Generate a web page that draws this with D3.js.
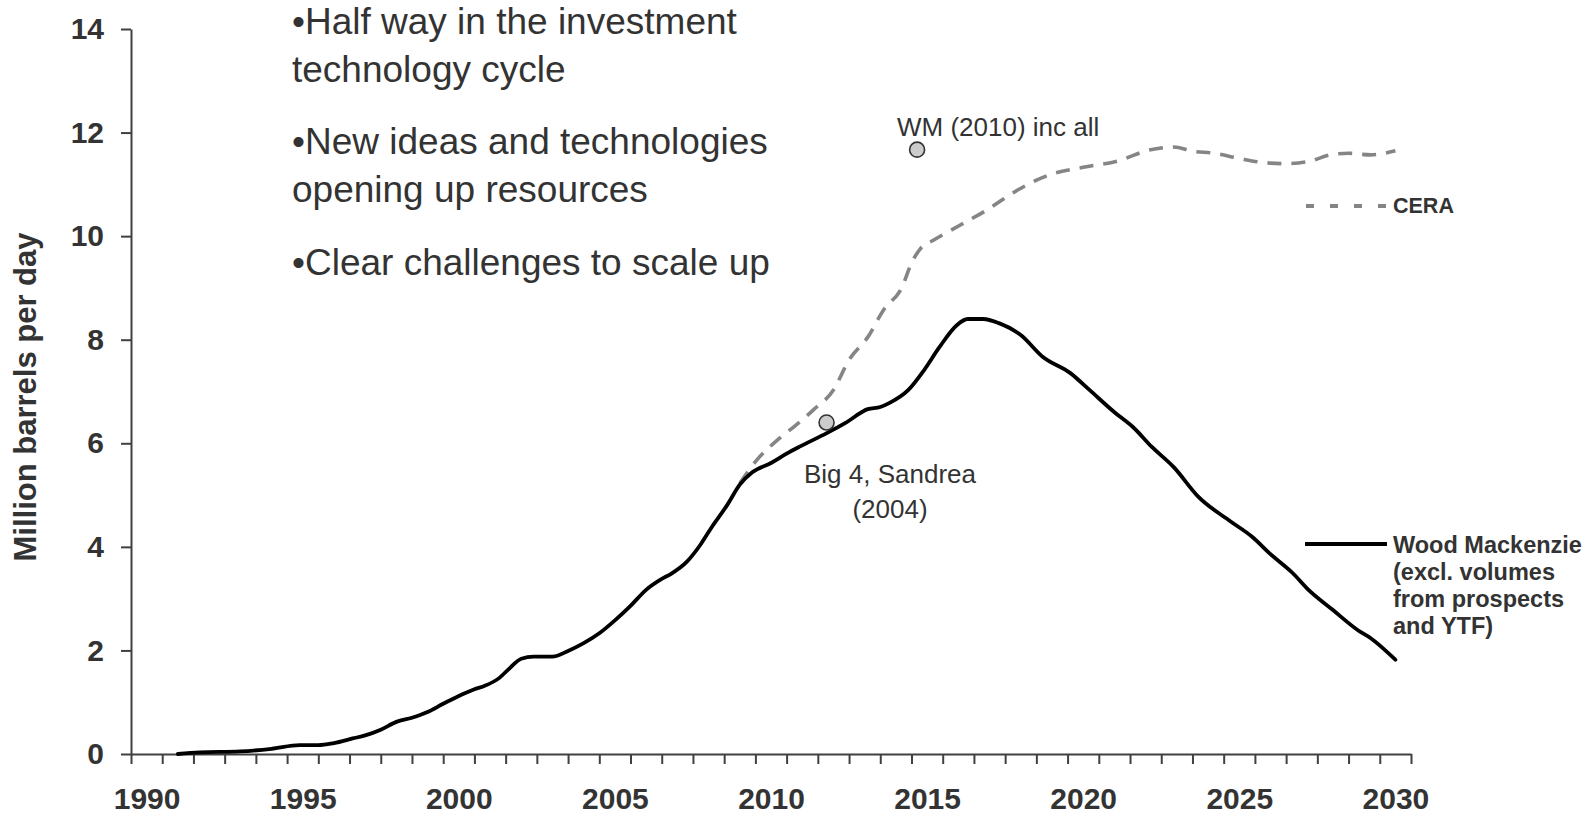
<!DOCTYPE html>
<html>
<head>
<meta charset="utf-8">
<script src="https://cdn.jsdelivr.net/npm/d3@7"></script>
<style>
    body { margin: 0; background: #fff; }
    svg text { font-family: "Liberation Sans", Arial, sans-serif; fill: #333; }
</style>
</head>
<body>
<div class="chart-container"></div>
<script>
// Wood Mackenzie (excl. volumes from prospects and YTF), million barrels per day
const wmYears = [1991.0, 1991.7, 1993.0, 1994.0, 1994.9, 1995.5, 1996.0, 1996.6, 1997.0, 1997.5,
    1998.0, 1998.5, 1999.0, 1999.5, 2000.0, 2000.5, 2000.8, 2001.3, 2001.6, 2002.0,
    2002.4, 2003.0, 2003.5, 2004.0, 2004.5, 2005.0, 2005.5, 2006.0, 2006.5, 2006.8,
    2007.3, 2007.75, 2008.1, 2008.6, 2009.0, 2009.4, 2010.0, 2010.5, 2010.9, 2011.8,
    2012.4, 2013.1, 2013.5, 2013.8, 2014.4, 2014.9, 2015.4, 2015.95, 2016.3, 2016.8,
    2017.3, 2018.0, 2018.7, 2019.6, 2020.2, 2021.0, 2021.6, 2022.2, 2022.9, 2023.7,
    2024.7, 2025.4, 2026.0, 2026.7, 2027.2, 2028.0, 2028.8, 2029.2, 2030.0];
const wmValues = [0.00, 0.03, 0.05, 0.10, 0.17, 0.17, 0.21, 0.30, 0.36, 0.47,
    0.62, 0.70, 0.81, 0.97, 1.12, 1.25, 1.31, 1.47, 1.64, 1.84,
    1.88, 1.88, 1.99, 2.14, 2.33, 2.58, 2.86, 3.17, 3.38, 3.48,
    3.71, 4.05, 4.38, 4.81, 5.20, 5.44, 5.62, 5.80, 5.93, 6.20,
    6.40, 6.66, 6.70, 6.78, 7.03, 7.41, 7.86, 8.28, 8.40, 8.40,
    8.32, 8.09, 7.67, 7.35, 7.03, 6.60, 6.31, 5.93, 5.54, 4.96,
    4.50, 4.20, 3.86, 3.50, 3.18, 2.78, 2.39, 2.24, 1.82];

// CERA
const ceraYears = [2009.0, 2009.55, 2010.2, 2010.8, 2011.35, 2012.0, 2012.5, 2013.1, 2013.6, 2014.2,
    2014.5, 2014.8, 2015.2, 2016.05, 2016.9, 2017.9, 2018.9, 2020.0, 2021.1, 2022.1,
    2022.9, 2023.5, 2024.2, 2025.0, 2025.8, 2026.5, 2027.2, 2028.0, 2028.5, 2029.2, 2030.0];
const ceraValues = [5.23, 5.68, 6.06, 6.35, 6.64, 7.03, 7.61, 8.05, 8.57, 9.02,
    9.48, 9.77, 9.92, 10.21, 10.50, 10.89, 11.18, 11.33, 11.45, 11.66,
    11.72, 11.64, 11.60, 11.50, 11.42, 11.40, 11.44, 11.58, 11.60, 11.57, 11.65];

// single estimates
const pointLabels = ['WM (2010) inc all', 'Big 4, Sandrea'];
const pointYears = [2014.68, 2011.78];
const pointValues = [11.67, 6.40];

// axis
const yearLabels = [1990, 1995, 2000, 2005, 2010, 2015, 2020, 2025, 2030];
const yTicks = [0, 2, 4, 6, 8, 10, 12, 14];

const bulletLines = [
    '\u2022Half way in the investment',
    'technology cycle',
    '\u2022New ideas and technologies',
    'opening up resources',
    '\u2022Clear challenges to scale up'
];

const svg_width = 1594;
const svg_height = 817;
const chart_margin = { top: 29, right: 183, bottom: 63, left: 131 };

const svg = d3.select('.chart-container').append('svg')
    .attr('width', svg_width).attr('height', svg_height);

// scale: every year is one category band, data sit at fractional years
const xScale = d3.scaleLinear()
    .domain([yearLabels[0] - 0.5, yearLabels[yearLabels.length - 1] + 0.5])
    .range([chart_margin.left, svg_width - chart_margin.right]);
const yScale = d3.scaleLinear()
    .domain([0, 14])
    .range([svg_height - chart_margin.bottom, chart_margin.top]);

const axisColor = '#404040';
const y0 = yScale(0);

// Draw axis
const yAxis = d3.axisLeft(yScale).tickValues(yTicks).tickSize(10).tickSizeOuter(0).tickPadding(17);
const yAxisDraw = svg.append('g').attr('class', 'y axis')
    .attr('transform', `translate(${chart_margin.left}, 0)`).call(yAxis);
yAxisDraw.select('.domain').attr('stroke', axisColor).attr('stroke-width', 2);
yAxisDraw.selectAll('.tick line').attr('stroke', axisColor).attr('stroke-width', 2);
yAxisDraw.selectAll('text')
    .style('font-size', '30px').style('font-weight', 'bold').attr('fill', '#333');

const bounds = d3.range(xScale.domain()[0], xScale.domain()[1] + 0.01, 1);
const xAxis = d3.axisBottom(xScale).tickValues(bounds).tickSize(10).tickSizeOuter(0).tickFormat('');
const xAxisDraw = svg.append('g').attr('class', 'x axis')
    .attr('transform', `translate(0, ${y0})`).call(xAxis);
xAxisDraw.select('.domain').attr('stroke', axisColor).attr('stroke-width', 2);
xAxisDraw.selectAll('.tick line').attr('stroke', axisColor).attr('stroke-width', 2);

const xLabels = d3.axisBottom(xScale).tickValues(yearLabels).tickSize(0).tickFormat(d3.format('d'));
const xLabelsDraw = svg.append('g').attr('class', 'x labels')
    .attr('transform', `translate(0, ${y0})`).call(xLabels);
xLabelsDraw.select('.domain').remove();
xLabelsDraw.selectAll('text')
    .attr('y', 55).attr('dy', 0)
    .style('font-size', '30px').style('font-weight', 'bold').attr('fill', '#333');

// y title
svg.append('text')
    .attr('transform', 'translate(36, 397) rotate(-90)')
    .attr('text-anchor', 'middle')
    .style('font-size', '31px').style('font-weight', 'bold')
    .text('Million barrels per day');

// Draw lines
const line = d3.line()
    .x(d => xScale(d[0]))
    .y(d => yScale(d[1]))
    .curve(d3.curveMonotoneX);

svg.append('path')
    .datum(d3.zip(ceraYears, ceraValues))
    .attr('fill', 'none')
    .attr('stroke', '#858585')
    .attr('stroke-width', 3.6)
    .attr('stroke-dasharray', '14,10')
    .attr('d', line);

svg.append('path')
    .datum(d3.zip(wmYears, wmValues))
    .attr('fill', 'none')
    .attr('stroke', '#000')
    .attr('stroke-width', 3.8)
    .attr('stroke-linejoin', 'round')
    .attr('stroke-linecap', 'round')
    .attr('d', line);

// single estimate markers
svg.selectAll('.point')
    .data(d3.zip(pointYears, pointValues))
    .enter()
    .append('circle')
    .attr('class', 'point')
    .attr('cx', d => xScale(d[0]))
    .attr('cy', d => yScale(d[1]))
    .attr('r', 7.5)
    .attr('fill', '#cccccc')
    .attr('stroke', '#333')
    .attr('stroke-width', 1.6);

svg.append('text')
    .attr('x', 897).attr('y', 136)
    .style('font-size', '26px')
    .text(pointLabels[0]);

const big4 = svg.append('text')
    .attr('text-anchor', 'middle')
    .style('font-size', '26px');
big4.append('tspan').attr('x', 890).attr('y', 483).text(pointLabels[1]);
big4.append('tspan').attr('x', 890).attr('y', 518).text('(2004)');

// legend
svg.append('line')
    .attr('x1', 1306).attr('x2', 1386).attr('y1', 206).attr('y2', 206)
    .attr('stroke', '#858585').attr('stroke-width', 3.8).attr('stroke-dasharray', '8,16');
svg.append('text')
    .attr('x', 1393).attr('y', 213)
    .style('font-size', '21.5px').style('font-weight', 'bold')
    .text('CERA');

svg.append('line')
    .attr('x1', 1305).attr('x2', 1387).attr('y1', 544).attr('y2', 544)
    .attr('stroke', '#000').attr('stroke-width', 3.8);
const wmLegend = svg.append('text')
    .style('font-size', '23.5px').style('font-weight', 'bold');
['Wood Mackenzie', '(excl. volumes', 'from prospects', 'and YTF)'].forEach((t, i) => {
    wmLegend.append('tspan').attr('x', 1393).attr('y', 553 + i * 27).text(t);
});

// bullet points
const bulletY = [33.5, 81.5, 154, 202, 274.5];
svg.append('g').attr('class', 'bullets')
    .selectAll('text')
    .data(bulletLines)
    .enter()
    .append('text')
    .attr('x', 292)
    .attr('y', (d, i) => bulletY[i])
    .style('font-size', '37px')
    .text(d => d);
</script>
</body>
</html>
